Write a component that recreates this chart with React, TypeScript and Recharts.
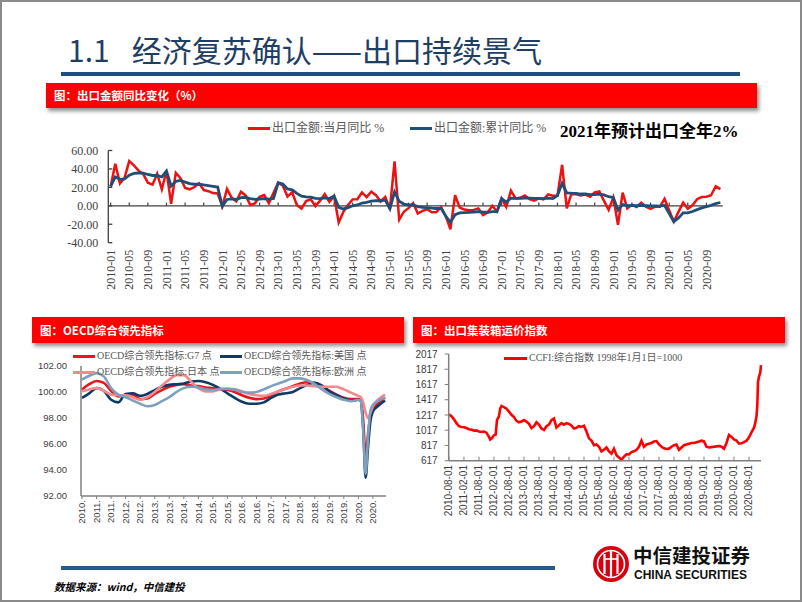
import { LineChart, Line, XAxis, YAxis, ReferenceLine } from 'recharts'

const SERIF = '"Liberation Serif", "Times New Roman", "Noto Sans CJK SC", serif'
const SANS = '"Liberation Sans", Arial, "Noto Sans CJK SC", sans-serif'
const CJK = '"Noto Sans CJK SC", "Liberation Sans", sans-serif'

const RED = '#EE1111'
const NAVY = '#1F4E79'

// ---- chart 1: export YoY, monthly 2010-01 .. 2020-12 (2020-01 not published)
const exportMonthly = [
  21.0, 45.7, 24.3, 30.5, 48.5, 43.9, 38.1, 34.4, 25.1, 22.9, 34.9, 17.9,
  37.7, 2.3, 35.8, 29.9, 19.4, 17.9, 20.4, 24.5, 17.1, 15.9, 13.8, 13.4,
  -0.5, 18.4, 8.9, 4.9, 15.3, 11.3, 1.0, 2.7, 9.9, 11.6, 2.9, 14.1,
  25.0, 21.8, 10.0, 14.7, 1.0, -3.1, 5.1, 7.2, -0.3, 5.6, 12.7, 4.3,
  10.6, -18.1, -6.6, 0.9, 7.0, 7.2, 14.5, 9.4, 15.3, 11.6, 4.7, 9.7,
  -3.3, 48.3, -15.0, -6.4, -2.5, 2.8, -8.3, -5.5, -3.7, -6.9, -6.8, -1.4,
  -11.2, -25.4, 11.5, -1.8, -4.1, -4.8, -4.4, -2.8, -10.0, -7.3, 0.1, -6.1,
  7.9, -1.3, 16.4, 8.0, 8.7, 11.3, 7.2, 5.5, 8.1, 6.9, 12.3, 10.9,
  11.1, 44.5, -2.7, 12.9, 12.6, 11.3, 12.2, 9.8, 14.5, 15.6, 5.4, -4.4,
  9.1, -20.7, 14.2, -2.7, 1.1, -1.3, 3.3, -1.0, -3.2, -0.9, -1.1, 7.6,
  null, -17.2, -6.6, 3.5, -3.3, 0.5, 7.2, 9.5, 9.9, 11.4, 21.1, 18.1,
]
const exportCumulative = [
  21.0, 31.4, 28.7, 29.1, 33.2, 35.2, 35.6, 35.5, 34.0, 32.9, 32.9, 31.3,
  37.7, 21.3, 26.5, 27.5, 25.7, 24.0, 23.4, 23.6, 22.7, 22.0, 21.1, 20.3,
  -0.5, 6.9, 7.6, 6.9, 8.9, 9.2, 7.9, 7.1, 7.4, 7.8, 7.3, 7.9,
  25.0, 23.6, 18.4, 17.4, 13.5, 10.4, 9.6, 9.4, 8.0, 7.8, 8.6, 7.9,
  10.6, -1.6, -3.4, -2.0, 0.0, 0.9, 3.0, 3.8, 5.1, 5.6, 5.5, 6.1,
  -3.3, 15.0, 4.9, 1.9, 0.9, 0.9, -0.8, -1.6, -1.9, -2.5, -2.9, -2.8,
  -11.2, -17.8, -9.6, -7.6, -7.3, -7.0, -6.7, -6.3, -6.9, -7.0, -6.4, -6.4,
  7.9, 4.0, 8.2, 8.1, 8.2, 8.5, 8.3, 8.0, 8.0, 7.8, 8.3, 7.9,
  11.1, 24.4, 14.1, 13.7, 13.5, 12.8, 12.8, 12.2, 12.2, 12.6, 11.8, 9.9,
  9.1, -4.6, 1.4, 0.2, 0.5, 0.1, 0.6, 0.3, -0.1, -0.2, -0.3, 0.5,
  null, -17.2, -13.3, -7.6, -7.7, -6.2, -4.1, -2.3, -0.8, 0.5, 2.5, 3.6,
]
const exportTickLabels = [
  '2010-01', '2010-05', '2010-09', '2011-01', '2011-05', '2011-09',
  '2012-01', '2012-05', '2012-09', '2013-01', '2013-05', '2013-09',
  '2014-01', '2014-05', '2014-09', '2015-01', '2015-05', '2015-09',
  '2016-01', '2016-05', '2016-09', '2017-01', '2017-05', '2017-09',
  '2018-01', '2018-05', '2018-09', '2019-01', '2019-05', '2019-09',
  '2020-01', '2020-05', '2020-09',
]
const exportTickIdx = exportTickLabels.map((_, k) => k * 4)
const exportData = exportMonthly.map((m, i) => ({ i, monthly: m, cumulative: exportCumulative[i] }))

// ---- chart 2: OECD CLI, months counted from 2010-07
const oecdMonths = [0, 3, 6, 9, 12, 15, 18, 21, 24, 27, 30, 33, 36, 39, 42, 45, 48, 51, 54, 57, 60, 63, 66, 69, 72, 75, 78, 81, 84, 87, 90, 93, 96, 99, 102, 105, 108, 111, 114, 115, 116, 117, 118, 119, 120, 122, 125]
const oecdG7 = [100.2, 100.6, 100.85, 100.7, 100.1, 99.65, 99.75, 99.8, 99.45, 99.5, 99.85, 100.15, 100.4, 100.55, 100.6, 100.5, 100.45, 100.35, 100.3, 100.2, 100.15, 100.0, 99.75, 99.55, 99.45, 99.5, 99.75, 100.05, 100.25, 100.45, 100.65, 100.75, 100.7, 100.45, 100.1, 99.8, 99.55, 99.45, 99.45, 99.4, 97.8, 95.0, 96.8, 98.2, 98.7, 99.1, 99.6]
const oecdUS = [99.55, 99.9, 100.3, 100.1, 99.4, 99.2, 99.85, 99.9, 99.7, 99.85, 100.15, 100.4, 100.55, 100.6, 100.65, 100.8, 100.85, 100.75, 100.55, 100.25, 99.9, 99.55, 99.25, 99.1, 99.1, 99.2, 99.55, 99.8, 99.9, 100.0, 100.3, 100.55, 100.7, 100.5, 100.05, 99.75, 99.5, 99.35, 99.4, 99.3, 97.2, 93.4, 95.8, 97.8, 98.5, 98.9, 99.35]
const oecdJP = [100.05, 100.2, 100.3, 100.1, 99.8, 99.75, 99.75, 99.6, 99.4, 99.6, 100.0, 100.5, 100.95, 101.3, 101.3, 100.8, 100.3, 100.05, 100.05, 100.2, 100.25, 100.2, 100.05, 99.85, 99.75, 99.7, 99.85, 100.05, 100.25, 100.4, 100.5, 100.5, 100.45, 100.4, 100.4, 100.4, 100.2, 99.95, 99.7, 99.6, 99.2, 98.4, 98.0, 98.4, 98.9, 99.4, 99.8]
const oecdEU = [100.95, 101.25, 101.45, 101.2, 100.3, 99.8, 99.6, 99.35, 99.1, 98.9, 99.0, 99.3, 99.6, 100.0, 100.3, 100.4, 100.35, 100.2, 100.15, 100.25, 100.25, 100.2, 100.0, 99.95, 100.0, 100.2, 100.45, 100.65, 100.85, 101.05, 101.05, 100.9, 100.6, 100.2, 99.85, 99.6, 99.4, 99.3, 99.4, 99.3, 97.0, 93.7, 96.5, 98.6, 99.0, 99.3, 99.55]
const oecdTickLabels = [
  '2010.', '2011.', '2011.', '2012.', '2012.', '2013.', '2013.', '2014.', '2014.', '2015.', '2015.',
  '2016.', '2016.', '2017.', '2017.', '2018.', '2018.', '2019.', '2019.', '2020.', '2020.',
]
const oecdTickIdx = oecdTickLabels.map((_, k) => k * 6)
const oecdData = oecdMonths.map((t, k) => ({ t, g7: oecdG7[k], us: oecdUS[k], jp: oecdJP[k], eu: oecdEU[k] }))

// ---- chart 3: CCFI, months counted from 2010-08-01
const ccfiMonths = [
  0, 1, 2, 3, 4, 5, 6, 7, 8, 9, 10, 11, 12, 13, 14, 15, 16, 16.5, 17, 18, 18.7, 19.2, 20, 20.5, 21, 22, 23, 24, 25, 26, 27, 28, 29, 30,
  31, 32, 33, 34, 35, 36, 37, 38, 39, 40, 41, 42, 43, 44, 45, 46, 47, 48, 49, 50, 51, 52, 53, 54, 55, 56, 57, 58, 59, 60,
  61, 62, 63, 64, 65, 66, 67, 68, 69, 70, 71, 72, 73, 74, 75, 76, 77, 78, 79, 80, 81, 82, 83, 84, 85, 86, 87, 88, 89, 90,
  91, 92, 93, 94, 95, 96, 97, 98, 99, 100, 101, 102, 103, 104, 105, 106, 107, 108, 109, 110, 111, 112, 113, 114, 115, 116, 117, 118, 119, 120,
  121, 122, 122.5, 123, 123.3, 123.6, 124, 124.5, 124.8,
]
const ccfiValues = [
  1225, 1200, 1160, 1110, 1070, 1060, 1055, 1045, 1030, 1025, 1010, 1015, 1000, 995, 1000, 985, 930, 895, 905, 950, 960, 1150, 1200, 1300, 1335, 1320, 1300, 1260, 1220, 1190, 1140, 1120, 1130, 1150,
  1130, 1100, 1045, 1070, 1120, 1090, 1040, 1020, 1070, 1090, 1150, 1170, 1050, 1080, 1110, 1090, 1110, 1100, 1080, 1040, 1050, 1070, 1060, 1075, 1000, 910, 880, 820, 830, 800,
  740, 760, 790, 740, 710, 775, 690, 660, 630, 670, 700, 700, 730, 740, 760, 800, 880, 800, 830, 840, 850, 870, 875, 830, 800, 780, 770, 775, 800, 820,
  830, 760, 790, 820, 830, 840, 850, 850, 860, 870, 880, 870, 800, 790, 795, 800, 805, 810, 800, 775, 850, 955, 930, 895, 880, 840, 845, 860, 880, 925,
  990, 1050, 1110, 1200, 1330, 1650, 1720, 1770, 1870,
]
const ccfiTickLabels = [
  '2010-08-01', '2011-02-01', '2011-08-01', '2012-02-01', '2012-08-01', '2013-02-01', '2013-08-01',
  '2014-02-01', '2014-08-01', '2015-02-01', '2015-08-01', '2016-02-01', '2016-08-01', '2017-02-01',
  '2017-08-01', '2018-02-01', '2018-08-01', '2019-02-01', '2019-08-01', '2020-02-01', '2020-08-01',
]
const ccfiTickIdx = ccfiTickLabels.map((_, k) => k * 6)
const ccfiData = ccfiMonths.map((t, k) => ({ t, v: ccfiValues[k] }))

const RotatedTick = (props: any) => {
	const { x, y, payload, labels, step, font, size } = props
	return (
		<text
			x={x}
			y={y}
			transform={`rotate(-90, ${x}, ${y})`}
			textAnchor="end"
			dy="0.35em"
			fontFamily={font}
			fontSize={size}
			fill="#404040"
		>
			{labels[Math.round(payload.value / step)]}
		</text>
	)
}

const Banner = ({ left, top, width, height, text }: any) => (
	<div
		style={{
			position: 'absolute', left, top, width, height, background: '#FF0000',
			boxShadow: '2px 3px 4px rgba(0,0,0,0.45)', color: '#fff', fontWeight: 'bold',
			fontFamily: CJK, fontSize: 11.5, lineHeight: `${height}px`, paddingLeft: 8, boxSizing: 'border-box',
		}}
	>
		{text}
	</div>
)

const LegendItem = ({ left, top, color, text, size, lineW = 22 }: any) => (
	<div style={{ position: 'absolute', left, top: top - 8, height: 16, display: 'flex', alignItems: 'center', whiteSpace: 'nowrap' }}>
		<div style={{ width: lineW, height: 3, background: color, marginRight: 2 }} />
		<span style={{ fontFamily: SERIF, fontSize: size, color: '#595959', lineHeight: '16px' }}>{text}</span>
	</div>
)

const abs = (left: number, top: number): any => ({ position: 'absolute', left, top })

export default function App() {
	return (
		<div style={{ position: 'absolute', left: 0, top: 0, width: 802, height: 602, background: '#fff', overflow: 'hidden' }}>
			{/* title */}
			<div style={{ ...abs(68, 31), fontFamily: CJK, fontSize: 30, lineHeight: '36px', color: '#1F3E64', whiteSpace: 'nowrap' }}>
				1.1<span style={{ marginLeft: 22 }}>经济复苏确认——出口持续景气</span>
			</div>
			<div style={{ ...abs(61, 72), width: 679, height: 4, background: NAVY }} />

			<Banner left={46} top={83} width={711} height={25} text="图：出口金额同比变化（%）" />

			{/* chart 1 */}
			<LegendItem left={248} top={128} color={RED} text="出口金额:当月同比 %" size={12} />
			<LegendItem left={410} top={128} color={NAVY} text="出口金额:累计同比 %" size={12} />
			<div style={{ ...abs(560, 122), fontFamily: SERIF, fontSize: 17, fontWeight: 'bold', lineHeight: '20px', color: '#000', whiteSpace: 'nowrap' }}>
				2021年预计出口全年2%
			</div>
			<div style={abs(40, 140)}>
				<LineChart width={700} height={165} data={exportData} margin={{ top: 10.5, right: 17.3, bottom: 7.3, left: 8.3 }}>
					<XAxis
						dataKey="i"
						type="number"
						domain={[-0.5, 131.5]}
						ticks={exportTickIdx}
						interval={0}
						axisLine={false}
						tickLine={false}
						tickSize={6}
						tickMargin={1}
						height={55}
						tick={(p: any) => <RotatedTick {...p} labels={exportTickLabels} step={4} font={SERIF} size={12} />}
					/>
					<YAxis
						domain={[-40, 60]}
						ticks={[-40, -20, 0, 20, 40, 60]}
						interval={0}
						width={60}
						axisLine={{ stroke: '#404040', strokeWidth: 1.3 }}
						tickLine={{ stroke: '#404040', strokeWidth: 1.3 }}
						tickSize={-4}
						tickMargin={14}
						tick={{ fontFamily: SERIF, fontSize: 12, fill: '#404040' }}
						tickFormatter={(v: number) => v.toFixed(2)}
					/>
					<ReferenceLine y={0} stroke="#404040" strokeWidth={1.3} />
					{exportTickIdx.map(i => (
						<ReferenceLine key={i} segment={[{ x: i, y: 0 }, { x: i, y: 3.5 }]} stroke="#404040" strokeWidth={1.2} />
					))}
					<Line type="linear" dataKey="monthly" stroke={RED} strokeWidth={2.5} dot={false} connectNulls isAnimationActive={false} />
					<Line type="linear" dataKey="cumulative" stroke={NAVY} strokeWidth={2.8} dot={false} connectNulls isAnimationActive={false} />
				</LineChart>
			</div>

			{/* chart 2 */}
			<Banner left={32} top={317} width={372} height={26} text="图：OECD综合领先指标" />
			<div style={abs(20, 350)}>
				<LineChart width={380} height={185} data={oecdData} margin={{ top: 16, right: 14, bottom: 9, left: 11 }}>
					<XAxis
						dataKey="t"
						type="number"
						domain={[-0.4, 125.4]}
						ticks={oecdTickIdx}
						interval={0}
						axisLine={{ stroke: '#7F7F7F', strokeWidth: 1.5 }}
						tickLine={{ stroke: '#7F7F7F' }}
						tickSize={3}
						tickMargin={1}
						height={30}
						tick={(p: any) => <RotatedTick {...p} labels={oecdTickLabels} step={6} font={SANS} size={9.5} />}
					/>
					<YAxis
						domain={[92, 102]}
						ticks={[92, 94, 96, 98, 100, 102]}
						interval={0}
						width={50}
						axisLine={{ stroke: '#7F7F7F', strokeWidth: 1.5 }}
						tickLine={false}
						tickSize={4}
						tickMargin={10}
						tick={{ fontFamily: SANS, fontSize: 9.5, fill: '#404040' }}
						tickFormatter={(v: number) => v.toFixed(2)}
					/>
					<Line type="monotone" dataKey="g7" stroke="#E8171F" strokeWidth={2.6} dot={false} isAnimationActive={false} />
					<Line type="monotone" dataKey="us" stroke="#0D3B66" strokeWidth={2.6} dot={false} isAnimationActive={false} />
					<Line type="monotone" dataKey="jp" stroke="#F4898E" strokeWidth={2.6} dot={false} isAnimationActive={false} />
					<Line type="monotone" dataKey="eu" stroke="#7F9FBE" strokeWidth={2.6} dot={false} isAnimationActive={false} />
				</LineChart>
			</div>
			<LegendItem left={73} top={356} color="#E8171F" text="OECD综合领先指标:G7 点" size={10} />
			<LegendItem left={220} top={356} color="#0D3B66" text="OECD综合领先指标:美国 点" size={10} />
			<LegendItem left={73} top={372} color="#F4898E" text="OECD综合领先指标:日本 点" size={10} />
			<LegendItem left={220} top={372} color="#7F9FBE" text="OECD综合领先指标:欧洲 点" size={10} />

			{/* chart 3 */}
			<Banner left={413} top={317} width={372} height={26} text="图：出口集装箱运价指数" />
			<div style={abs(400, 340)}>
				<LineChart width={390} height={190} data={ccfiData} margin={{ top: 14, right: 29, bottom: 9.3, left: 8.7 }}>
					<XAxis
						dataKey="t"
						type="number"
						domain={[-0.1, 124.8]}
						ticks={ccfiTickIdx}
						interval={0}
						axisLine={{ stroke: '#7F7F7F', strokeWidth: 1.5 }}
						tickLine={{ stroke: '#7F7F7F' }}
						tickSize={-4}
						tickMargin={8.3}
						height={60}
						tick={(p: any) => <RotatedTick {...p} labels={ccfiTickLabels} step={6} font={SANS} size={10} />}
					/>
					<YAxis
						domain={[617, 2017]}
						ticks={[617, 817, 1017, 1217, 1417, 1617, 1817, 2017]}
						interval={0}
						width={40}
						axisLine={{ stroke: '#7F7F7F', strokeWidth: 1.5 }}
						tickLine={{ stroke: '#7F7F7F' }}
						tickSize={4}
						tickMargin={7}
						tick={{ fontFamily: SANS, fontSize: 10, fill: '#404040' }}
					/>
					<Line type="linear" dataKey="v" stroke="#FF0000" strokeWidth={2.6} dot={false} isAnimationActive={false} />
				</LineChart>
			</div>
			<LegendItem left={504} top={358} color="#FF0000" text="CCFI:综合指数 1998年1月1日=1000" size={10} lineW={23} />

			{/* footer */}
			<div style={{ ...abs(61, 566), width: 494, height: 4, background: '#24598A' }} />
			<div style={{ ...abs(54, 580), fontFamily: CJK, fontSize: 10.5, fontStyle: 'italic', fontWeight: 'bold', color: '#000', lineHeight: '14px' }}>
				数据来源：wind，中信建投
			</div>
			<svg width={38} height={38} style={abs(592, 545)}>
				<circle cx={19} cy={19} r={18} fill="#D7000F" />
				<circle cx={19} cy={19} r={13.5} fill="none" stroke="#fff" strokeWidth={1.6} />
				<path d="M12.5 9 V29 M19 6 V32 M25.5 9 V29" stroke="#fff" strokeWidth={2.2} />
				<path d="M12.5 14 H25.5" stroke="#fff" strokeWidth={1.6} />
			</svg>
			<div style={{ ...abs(633, 545), fontFamily: CJK, fontSize: 19.5, fontWeight: 'bold', lineHeight: '20px', color: '#111', whiteSpace: 'nowrap' }}>
				中信建投证券
			</div>
			<div style={{ ...abs(634, 569), fontFamily: SANS, fontSize: 12, fontWeight: 'bold', lineHeight: '12px', color: '#111', whiteSpace: 'nowrap' }}>
				CHINA SECURITIES
			</div>

			{/* slide frame */}
			<div style={{ ...abs(0, 0), width: 802, height: 602, border: '2px solid #8a8a8a', boxSizing: 'border-box', pointerEvents: 'none' }} />
		</div>
	)
}
